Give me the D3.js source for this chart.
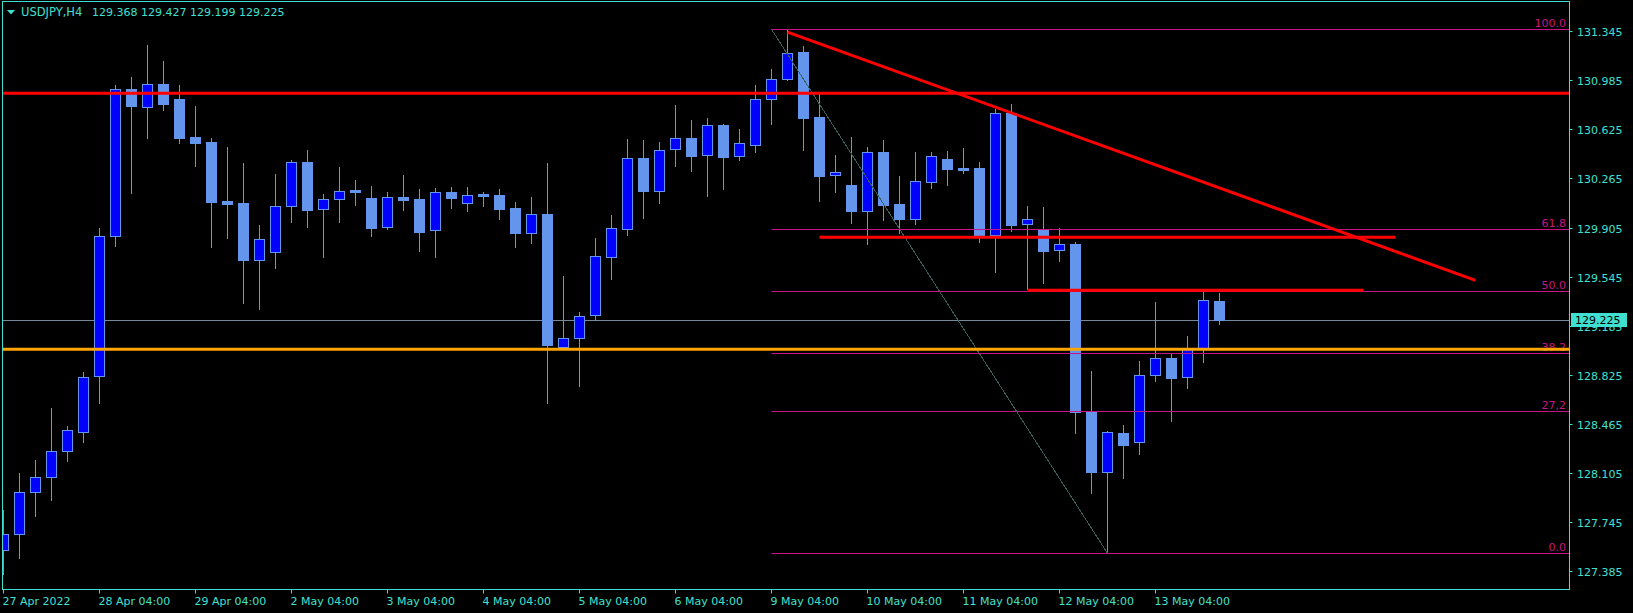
<!DOCTYPE html>
<html><head><meta charset="utf-8">
<script src="https://cdn.jsdelivr.net/npm/d3@7"></script>
<style>html,body{margin:0;padding:0;background:#000;overflow:hidden}svg{display:block}</style>
</head><body>
<svg id="chart" width="1633" height="613"></svg>
<script>
// ---------- DATA ----------
const symbol = "USDJPY,H4";
const headerValues = ["129.368", "129.427", "129.199", "129.225"];
const openP = [127.543,127.657,127.965,128.073,128.270,128.409,128.818,129.841,130.918,130.792,
  130.954,130.846,130.568,130.532,130.100,130.086,129.669,129.727,130.060,130.383,
  130.039,130.116,130.177,130.119,129.907,130.127,130.112,129.885,130.163,130.083,
  130.151,130.141,130.046,129.867,130.004,129.027,129.093,129.261,129.691,129.896,
  130.412,130.171,130.478,130.559,130.435,130.654,130.427,130.508,130.845,130.992,
  131.192,130.713,130.288,130.217,130.028,130.456,130.077,129.970,130.241,130.407,
  130.338,130.338,129.852,130.742,129.929,129.887,129.738,129.784,128.555,128.115,
  128.396,128.330,128.821,128.946,128.807,129.012,129.368];
const highP = [127.834,128.106,128.199,128.585,128.449,128.846,129.901,130.949,131.009,131.241,
  131.126,130.949,130.795,130.560,130.495,130.378,129.924,130.297,130.401,130.473,
  130.151,130.349,130.253,130.209,130.165,130.290,130.187,130.192,130.202,130.202,
  130.165,130.187,130.092,130.129,130.380,129.550,129.288,129.826,129.997,130.554,
  130.547,130.532,130.803,130.693,130.708,130.664,130.627,130.950,131.067,131.358,
  131.236,130.889,130.437,130.569,130.495,130.547,130.283,130.459,130.459,130.466,
  130.488,130.385,130.772,130.811,130.063,130.055,129.899,129.799,128.853,128.413,
  128.457,128.926,129.359,128.983,129.110,129.434,129.427];
const lowP = [127.362,127.485,127.793,127.909,128.197,128.335,128.621,129.770,130.161,130.563,
  130.769,130.527,130.358,129.765,129.831,129.353,129.310,129.611,129.946,129.911,
  129.691,129.948,130.070,129.845,129.892,130.036,129.735,129.691,130.050,130.028,
  130.065,129.970,129.765,129.794,128.621,129.017,128.746,129.227,129.530,129.852,
  129.977,130.087,130.358,130.322,130.138,130.187,130.402,130.461,130.666,130.985,
  130.473,130.099,130.165,129.940,129.786,129.960,129.863,129.931,130.195,130.217,
  130.307,129.801,129.581,129.882,129.452,129.500,129.662,128.401,127.961,127.517,
  128.071,128.247,128.782,128.489,128.731,128.921,129.199];
const closeP = [127.657,127.965,128.073,128.270,128.424,128.813,129.841,130.918,130.797,130.954,
  130.813,130.563,130.527,130.095,130.080,129.669,129.820,130.060,130.383,130.036,
  130.112,130.171,130.167,129.904,130.127,130.109,129.875,130.163,130.124,130.141,
  130.138,130.043,129.867,130.002,129.046,129.093,129.257,129.694,129.899,130.412,
  130.175,130.471,130.559,130.432,130.654,130.424,130.522,130.845,130.992,131.182,
  130.710,130.285,130.310,130.028,130.456,130.072,129.967,130.244,130.427,130.334,
  130.329,129.850,130.742,129.923,129.965,129.735,129.782,128.550,128.115,128.404,
  128.313,128.821,128.946,128.804,129.012,129.371,129.225];
const priceTicks = [131.345,130.985,130.625,130.265,129.905,129.545,129.185,128.825,128.465,128.105,127.745,127.385];
const dateLabels = ["27 Apr 2022","28 Apr 04:00","29 Apr 04:00","2 May 04:00","3 May 04:00","4 May 04:00",
  "5 May 04:00","6 May 04:00","9 May 04:00","10 May 04:00","11 May 04:00","12 May 04:00","13 May 04:00"];
const dateLabelBars = [0,6,12,18,24,30,36,42,48,54,60,66,72];
const lastPrice = 129.225;
const fullLinePrices = [130.889, 129.012];        // red, orange horizontal lines
const segLinePrices = [129.833, 129.445];         // short red horizontal lines
const segLineStartBars = [51, 64];
const segLineEndBars = [87, 85];
const trendBars = [49, 92];
const trendPrices = [131.338, 129.518];
const fibLevels = [0, 27.2, 38.2, 50, 61.8, 100];
const fibLabels = ["0.0", "27,2", "38.2", "50.0", "61.8", "100.0"];
const fibBars = [48, 69];
const fibPrices = [131.358, 127.517];

// ---------- LAYOUT ----------
const W = 1633, H = 613;
const plot = {x0: 2.5, y0: 1.5, x1: 1569.5, y1: 589.5};
const fg = "#40E0D0";
const fibColor = "#C71585";
const bullFill = "#0000FF", bearFill = "#6495ED", edge = "#6495ED";
const font = "'DejaVu Sans', sans-serif";

const svg = d3.select("#chart");
svg.append("rect").attr("width", W).attr("height", H).attr("fill", "#000");

const x = d3.scaleLinear().domain([0, 1]).range([3.5, 19.5]);
const y = d3.scaleLinear().domain([127.385, 131.345]).range([571.3, 31.1]);

svg.append("defs").append("clipPath").attr("id", "clip")
  .append("rect").attr("x", plot.x0 + 0.5).attr("y", plot.y0 + 0.5)
  .attr("width", plot.x1 - plot.x0 - 1).attr("height", plot.y1 - plot.y0 - 1);

const g = svg.append("g").attr("clip-path", "url(#clip)");

// current price line (behind candles)
g.append("line").attr("x1", plot.x0).attr("x2", plot.x1)
  .attr("y1", Math.round(y(lastPrice)) + 0.5).attr("y2", Math.round(y(lastPrice)) + 0.5)
  .attr("stroke", "#778899").attr("stroke-width", 1);

// candles
const bars = d3.range(openP.length).map(i => ({i, o: openP[i], h: highP[i], l: lowP[i], c: closeP[i]}));
const cg = g.append("g");
bars.forEach(d => {
  const cx = x(d.i);
  cg.append("line").attr("x1", cx).attr("x2", cx)
    .attr("y1", Math.round(y(d.h))).attr("y2", Math.round(y(d.l)) + 1)
    .attr("stroke", edge).attr("stroke-width", 1);
  const top = Math.round(y(Math.max(d.o, d.c)));
  const bot = Math.round(y(Math.min(d.o, d.c)));
  const bull = d.c >= d.o;
  if (bot - top < 2) {
    cg.append("rect").attr("x", cx - 5.5).attr("y", top).attr("width", 11).attr("height", Math.max(2, bot - top + 1))
      .attr("fill", bull ? edge : bearFill);
  } else {
    cg.append("rect").attr("x", cx - 5).attr("y", top + 0.5).attr("width", 10).attr("height", bot - top)
      .attr("fill", bull ? bullFill : bearFill).attr("stroke", edge).attr("stroke-width", 1);
  }
});

// fibonacci
const fibRange = fibPrices[0] - fibPrices[1];
fibLevels.forEach((lv, j) => {
  const py = Math.round(y(fibPrices[1] + fibRange * lv / 100)) + 0.5;
  g.append("line").attr("x1", x(fibBars[0])).attr("x2", plot.x1)
    .attr("y1", py).attr("y2", py).attr("stroke", fibColor).attr("stroke-width", 1);
  g.append("text").attr("x", 1566).attr("y", py - 2.5).attr("text-anchor", "end")
    .attr("font-family", font).attr("font-size", 11).attr("fill", fibColor).text(fibLabels[j]);
});
g.append("line").attr("x1", x(fibBars[0])).attr("y1", y(fibPrices[0]))
  .attr("x2", x(fibBars[1])).attr("y2", y(fibPrices[1]))
  .attr("stroke", "#3A5F5A").attr("stroke-width", 1).attr("shape-rendering", "crispEdges");

// horizontal lines
const fullColors = ["#FF0000", "#FFA500"];
fullLinePrices.forEach((p, j) => {
  g.append("line").attr("x1", plot.x0).attr("x2", plot.x1).attr("y1", y(p)).attr("y2", y(p))
    .attr("stroke", fullColors[j]).attr("stroke-width", 3);
});
segLinePrices.forEach((p, j) => {
  g.append("line").attr("x1", x(segLineStartBars[j])).attr("x2", x(segLineEndBars[j]))
    .attr("y1", y(p)).attr("y2", y(p)).attr("stroke", "#FF0000").attr("stroke-width", 3);
});
g.append("line").attr("x1", x(trendBars[0])).attr("y1", y(trendPrices[0]))
  .attr("x2", x(trendBars[1])).attr("y2", y(trendPrices[1]))
  .attr("stroke", "#FF0000").attr("stroke-width", 3);

// border
svg.append("rect").attr("x", plot.x0).attr("y", plot.y0)
  .attr("width", plot.x1 - plot.x0).attr("height", plot.y1 - plot.y0)
  .attr("fill", "none").attr("stroke", fg).attr("stroke-width", 1);

// right price axis
priceTicks.forEach(p => {
  const py = Math.round(y(p)) + 0.5;
  svg.append("line").attr("x1", plot.x1).attr("x2", plot.x1 + 3).attr("y1", py).attr("y2", py)
    .attr("stroke", fg).attr("stroke-width", 1);
  svg.append("text").attr("x", 1577).attr("y", py + 4).attr("font-family", font).attr("font-size", 11)
    .attr("fill", fg).text(p.toFixed(3));
});
// last price box
const ly = Math.round(y(lastPrice));
svg.append("rect").attr("x", 1571).attr("y", ly - 7).attr("width", 56).attr("height", 14).attr("fill", fg);
svg.append("text").attr("x", 1575).attr("y", ly + 4).attr("font-family", font).attr("font-size", 11)
  .attr("fill", "#000").text(lastPrice.toFixed(3));

// bottom time axis
dateLabelBars.forEach((b, j) => {
  const tx = x(b);
  svg.append("line").attr("x1", tx).attr("x2", tx).attr("y1", plot.y1).attr("y2", plot.y1 + 4)
    .attr("stroke", fg).attr("stroke-width", 1);
  svg.append("text").attr("x", tx - 1).attr("y", 605).attr("font-family", font).attr("font-size", 11)
    .attr("fill", fg).text(dateLabels[j]);
});

// header
svg.append("path").attr("d", "M7,10 L15,10 L11,14.5 Z").attr("fill", fg);
svg.append("text").attr("x", 21).attr("y", 16).attr("font-family", font).attr("font-size", 11.5)
  .attr("fill", fg).text(symbol);
svg.append("text").attr("x", 92).attr("y", 16).attr("font-family", font).attr("font-size", 11)
  .attr("fill", fg).text(headerValues.join(" "));
</script>
</body></html>
